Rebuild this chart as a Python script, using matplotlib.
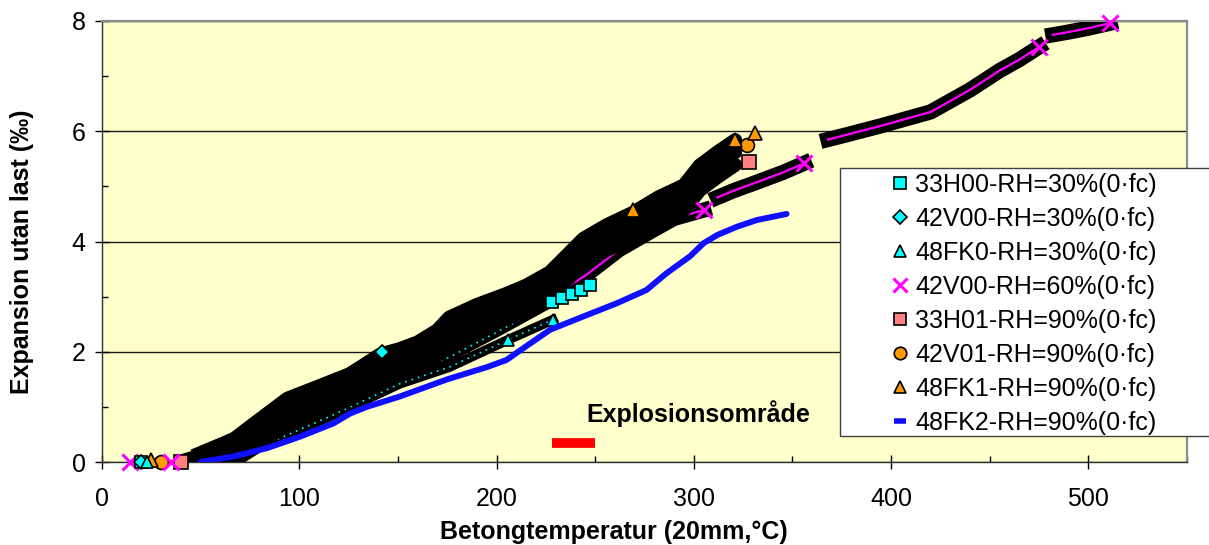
import matplotlib
matplotlib.use("Agg")
import matplotlib.pyplot as plt
from matplotlib.lines import Line2D
from matplotlib.patches import Rectangle
from matplotlib.ticker import MultipleLocator

plt.rcParams["font.family"] = ["Liberation Sans", "DejaVu Sans"]

# ---------------- data (temperature °C, expansion ‰) ----------------
labels = [
    "33H00-RH=30%(0·fc)",
    "42V00-RH=30%(0·fc)",
    "48FK0-RH=30%(0·fc)",
    "42V00-RH=60%(0·fc)",
    "33H01-RH=90%(0·fc)",
    "42V01-RH=90%(0·fc)",
    "48FK1-RH=90%(0·fc)",
    "48FK2-RH=90%(0·fc)",
]

# RH=30 %  (first point = start reading at room temperature)
t_33h00 = [20, 50, 83, 117, 151, 176, 200, 228, 233, 238, 243, 247.5]
e_33h00 = [0, 0.05, 0.40, 0.95, 1.55, 1.90, 2.35, 2.90, 2.97, 3.05, 3.12, 3.21]
t_42v00 = [20, 50, 67, 94, 117, 142]
e_42v00 = [0, 0.12, 0.40, 1.05, 1.45, 2.00]
t_48fk0 = [23, 50, 83, 117, 151, 176, 206, 228.5]
e_48fk0 = [0, 0.02, 0.32, 0.85, 1.42, 1.72, 2.22, 2.58]

# RH=60 %, logged in four runs
t_42v00_60 = [
    [14, 35, 50, 70, 90, 110, 130, 150, 170, 190, 210, 228, 245, 262, 279, 290, 305],
    [312, 320, 330, 345, 356],
    [368, 379, 395, 405, 420, 440, 455, 465, 475],
    [482, 490, 500, 511],
]
e_42v00_60 = [
    [0, 0, 0.15, 0.45, 0.75, 1.05, 1.30, 1.60, 1.95, 2.30, 2.65, 3.00, 3.38, 3.85, 4.20, 4.42, 4.57],
    [4.80, 4.92, 5.05, 5.25, 5.42],
    [5.85, 5.95, 6.10, 6.20, 6.35, 6.75, 7.10, 7.30, 7.53],
    [7.75, 7.80, 7.87, 7.96],
]

# RH=90 %
t_90 = [41, 50, 67, 78, 94, 109, 126, 141, 151, 160, 170, 176, 190, 205, 215,
        227, 244, 256, 269, 282, 295, 303, 312, 321]
e_48fk1 = [0.02, 0.12, 0.42, 0.72, 1.15, 1.36, 1.60, 1.95, 2.05, 2.17, 2.39, 2.62,
           2.85, 3.05, 3.20, 3.44, 4.05, 4.30, 4.52, 4.80, 5.02, 5.38, 5.62, 5.84]
e_42v01 = [0.0, 0.02, 0.22, 0.50, 0.93, 1.14, 1.38, 1.73, 1.83, 1.95, 2.17, 2.40,
           2.63, 2.83, 2.98, 3.22, 3.83, 4.08, 4.30, 4.58, 4.80, 5.16, 5.40, 5.62]
e_33h01 = [0, 0, 0.02, 0.27, 0.70, 0.91, 1.15, 1.50, 1.60, 1.72, 1.94, 2.17,
           2.40, 2.60, 2.75, 2.99, 3.60, 3.85, 4.07, 4.35, 4.57, 4.93, 5.17, 5.39]
mark_48fk1 = ([25, 269, 321, 331], [0.03, 4.57, 5.84, 5.97])
mark_42v01 = ([30, 327], [0, 5.75])
mark_33h01 = ([40, 328], [0, 5.45])

t_48fk2 = [50, 66.6, 83.5, 100.4, 117.3, 125.8, 134.2, 151.1, 175, 195, 205, 215, 227.2,
           244, 261, 276, 286, 298, 305, 312, 322, 332, 347]
e_48fk2 = [0, 0.10, 0.25, 0.46, 0.70, 0.88, 1.00, 1.19, 1.50, 1.72, 1.85, 2.10, 2.40,
           2.64, 2.88, 3.12, 3.42, 3.73, 3.97, 4.12, 4.27, 4.39, 4.50]

# explosive spalling range
expl_t = [228, 250]
expl_e = [0.35, 0.35]

# ---------------- figure ----------------
W, H = 1209, 545
fig = plt.figure(figsize=(W / 100, H / 100), dpi=100)
ax = fig.add_axes([102 / W, 1 - 462 / H, (1187 - 102) / W, (462 - 21) / H])
ax.set_facecolor("#FFFFCC")
ax.set_xlim(0, 550)
ax.set_ylim(0, 8)

BAND = dict(color="black", solid_capstyle="projecting", solid_joinstyle="round", zorder=2)

# RH=60 % runs: black marker cloud with the magenta trace, X at the run ends
for i, (tx, ey) in enumerate(zip(t_42v00_60, e_42v00_60)):
    k = 2 if i == 0 else 0
    ax.plot(tx[k:], ey[k:], lw=11, **BAND)
    ax.plot(tx[k:], ey[k:], color="#FF00FF", lw=1.6, zorder=2.1)
ends_t = t_42v00_60[0][:2] + [s[-1] for s in t_42v00_60]
ends_e = e_42v00_60[0][:2] + [s[-1] for s in e_42v00_60]
ax.plot(ends_t, ends_e, ls="none", marker="x", ms=11, mew=2.2, color="#FF00FF",
        zorder=3.3, clip_on=False)

# RH=30 % runs
cyan = dict(ls="none", mfc="#00FFFF", mec="black", mew=1.2, zorder=3.4, clip_on=False)
for tx, ey in ((t_48fk0, e_48fk0), (t_33h00, e_33h00), (t_42v00, e_42v00)):
    ax.plot(tx[1:], ey[1:], lw=7, **BAND)
    ax.plot(tx[1:], ey[1:], color="#00FFFF", lw=1.2, ls=(0, (1, 3)), zorder=2.3)
ax.plot(t_33h00[-5:], e_33h00[-5:], marker="s", ms=9, **cyan)
ax.plot(t_48fk0[-2:], e_48fk0[-2:], marker="^", ms=9, **cyan)
ax.plot(t_42v00[-1:], e_42v00[-1:], marker="D", ms=7, **cyan)
ax.plot(t_33h00[:1], e_33h00[:1], marker="s", ms=9, **cyan)
ax.plot(t_42v00[:1], e_42v00[:1], marker="D", ms=7, **cyan)
ax.plot(t_48fk0[:1], e_48fk0[:1], marker="^", ms=9, **cyan)

# RH=90 % runs
for ey in (e_33h01, e_42v01, e_48fk1):
    ax.plot(t_90, ey, lw=10, zorder=3, color="black", solid_capstyle="round", solid_joinstyle="round")
mk90 = dict(ls="none", ms=10, mec="black", mew=1.2, clip_on=False)
ax.plot(*mark_33h01, marker="s", mfc="#FF8080", zorder=3.1, **mk90)
ax.plot(*mark_42v01, marker="o", mfc="#FF9900", zorder=3.1, **mk90)
ax.plot(*mark_48fk1, marker="^", mfc="#FF9900", zorder=3.2, **mk90)

# 48FK2
ax.plot(t_48fk2, e_48fk2, color="#1010FF", lw=4.3, solid_capstyle="round", zorder=4)

# explosive spalling marker
ax.plot(expl_t, expl_e, color="#FF0000", lw=7, solid_capstyle="butt", zorder=4)
ax.text(245.5, 0.87, "Explosionsområde", fontsize=18, fontweight="bold", va="center", ha="left", zorder=4)

# axes styling
ax.set_xticks(range(0, 501, 100))
ax.xaxis.set_minor_locator(MultipleLocator(50))
ax.set_yticks(range(0, 9, 2))
ax.yaxis.set_minor_locator(MultipleLocator(1))
ax.yaxis.grid(True, which="major", color="#1a1a1a", lw=1.0, zorder=1)
ax.set_axisbelow(True)
ax.tick_params(which="major", direction="inout", length=9.5, width=1, labelsize=18)
ax.tick_params(which="minor", direction="in", length=4, width=1)
ax.tick_params(axis="x", which="major", pad=13)
ax.tick_params(axis="y", which="major", pad=7)
for side in ("top", "right"):
    ax.spines[side].set_color("#8c8c8c")
    ax.spines[side].set_linewidth(1.6)
for side in ("left", "bottom"):
    ax.spines[side].set_color("#303030")
    ax.spines[side].set_linewidth(1.0)

ax.set_xlabel("Betongtemperatur (20mm,°C)", fontsize=18, fontweight="bold", va="center")
ax.xaxis.set_label_coords(0.472, (462 - 532) / 441)
ax.set_ylabel("Expansion utan last (‰)", fontsize=18, fontweight="bold", va="center")
ax.yaxis.set_label_coords((22 - 102) / 1085, 0.476)

# legend box
frame = Rectangle((840 / W, 1 - 436 / H), (1220 - 840) / W, (436 - 168) / H,
                  transform=fig.transFigure, fc="white", ec="#404040", lw=1, zorder=5)
fig.add_artist(frame)

mk = dict(ls="none", mec="black", mew=1.2)
handles = [
    Line2D([], [], marker="s", ms=9, mfc="#00FFFF", **mk),
    Line2D([], [], marker="D", ms=7, mfc="#00FFFF", **mk),
    Line2D([], [], marker="^", ms=9, mfc="#00FFFF", **mk),
    Line2D([], [], marker="x", ms=10, mew=2.2, color="#FF00FF", ls="none"),
    Line2D([], [], marker="s", ms=9, mfc="#FF8080", **mk),
    Line2D([], [], marker="o", ms=9, mfc="#FF9900", **mk),
    Line2D([], [], marker="^", ms=9, mfc="#FF9900", **mk),
    Line2D([], [], marker="_", ms=9, mew=4, color="#1010FF", ls="none"),
]
leg = fig.legend(handles, labels, loc="upper left", bbox_to_anchor=(890 / W, 1 - 173 / H),
                 frameon=False, fontsize=18, handlelength=0.8, handletextpad=0.2,
                 borderpad=0, borderaxespad=0, labelspacing=0.40)
leg.set_zorder(6)

fig.savefig("out.png", dpi=100, facecolor="white")
